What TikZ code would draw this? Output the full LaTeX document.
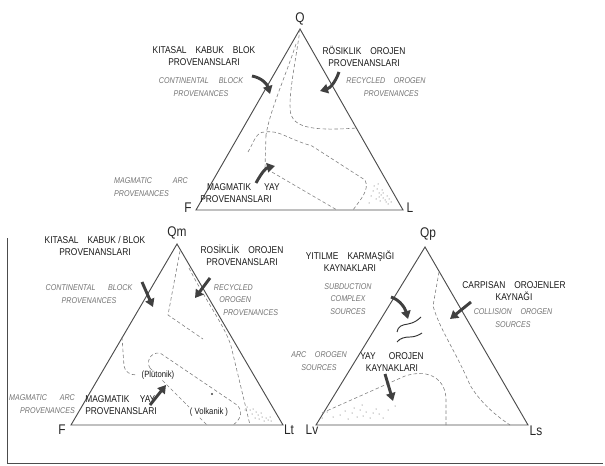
\documentclass[tikz,border=0pt]{standalone}
\usepackage{fontspec}
\newfontfamily\lab[FakeStretch=0.85]{Liberation Sans}
\usetikzlibrary{arrows.meta}
\begin{document}
\begin{tikzpicture}[x=0.75pt,y=-0.75pt,
  edge/.style={draw=black!70, line width=0.7pt, line join=miter},
  fieldline/.style={draw=black!50, dash pattern=on 2.6pt off 1.8pt, line width=0.45pt},
  bigarrow/.style={draw=black!75, line width=2.2pt, -{Triangle[length=6pt,width=7pt]}},
  trtext/.style={font=\lab\fontsize{7.4}{9}\selectfont, text=black!90, align=center, inner sep=0pt},
  entext/.style={font=\lab\itshape\fontsize{6.3}{9.5}\selectfont, text=black!55, align=center, inner sep=0pt},
  corner/.style={font=\lab\fontsize{10.5}{11}\selectfont, text=black!85, inner sep=0pt},
  dots/.style={fill=black!70}]
\useasboundingbox (0,0) rectangle (605,466);
% frame
\draw[edge, line width=0.6pt] (7,238) -- (7,463) -- (603,463);

% ---------------- top triangle QFL
\coordinate (F1) at (196,210); \coordinate (Q1) at (300,29); \coordinate (L1) at (403,210);
\draw[edge] (F1) -- (Q1) -- (L1) -- cycle;
\node[corner] (q1) at (300,19) {Q};
\node[corner] (f1) at (188,208) {F};
\node[corner] (l1) at (410,208) {L};

\draw[fieldline] (Q1) .. controls (296,60) and (287,100) .. (291,115) .. controls (296,128) and (315,131) .. (357,128);
\draw[fieldline] (296,44) .. controls (286,75) and (270,110) .. (266,135);
\draw[fieldline] (248,152) .. controls (255,140) and (256,132) .. (265,132) .. controls (280,130) and (285,138) .. (312,146) -- (365,180) .. controls (370,190) and (360,200) .. (353,210);
\draw[fieldline] (266,135) -- (265,168) -- (337,210);

\node[trtext] (t1a) at (204,56) {KITASAL\hspace{5pt} KABUK\hspace{5pt} BLOK\\PROVENANSLARI};
\node[entext] (t1b) at (201,87) {CONTINENTAL\hspace{6pt} BLOCK\\PROVENANCES};
\node[trtext] (t1c) at (364,56) {RÖSIKLIK\hspace{5pt} OROJEN\\PROVENANSLARI};
\node[entext] (t1d) at (386,87) {RECYCLED\hspace{5pt} OROGEN\\\hspace{8pt}PROVENANCES};
\node[entext, align=left] (t1e) at (151,187) {MAGMATIC\hspace{14pt} ARC\\PROVENANCES};
\node[trtext, align=left] (t1f) at (240,193) {\hspace{5pt}MAGMATIK\hspace{8pt} YAY\\PROVENANSLARI};

\coordinate (a1s) at (252,76); \coordinate (a1e) at (270,94);
\draw[bigarrow] (a1s) .. controls (262,78) and (267,84) .. (a1e);
\coordinate (a2s) at (339,72); \coordinate (a2e) at (320,91);
\draw[bigarrow] (a2s) .. controls (335,83) and (330,88) .. (a2e);
\coordinate (a3s) at (256,183); \coordinate (a3e) at (275,166);
\draw[bigarrow] (a3s) .. controls (262,172) and (266,168) .. (a3e);

% dotted cluster near L
\foreach \px/\py in {374/186,377/189,379/193,381/195,383/198,385/200,379/197,376/199,383/193,387/196,389/199,386/202,380/201,373/191,371/196,369/203,391/202,378/184,382/190,388/204}
  \fill[dots] (\px,\py) circle (0.5);

% ---------------- bottom-left triangle QmFLt
\coordinate (F2) at (71,425); \coordinate (Q2) at (177,244); \coordinate (L2) at (283,425);
\draw[edge] (F2) -- (Q2) -- (L2) -- cycle;
\node[corner] (q2) at (177,233) {Qm};
\node[corner] (f2) at (62,430) {F};
\node[corner] (l2) at (289,430) {Lt};

\draw[fieldline] (180,251) -- (168,315) -- (203,339);
\draw[fieldline] (189,268) .. controls (205,300) and (228,330) .. (232,350) -- (250,425);
\draw[fieldline] (122,337) -- (124,366) .. controls (125,372) and (130,375) .. (137,375);
\draw[fieldline] (150,368) .. controls (146,362) and (150,352) .. (160,353) -- (237,405) .. controls (244,412) and (240,420) .. (233,425);
\draw[fieldline] (150,368) -- (207,425);

\node[trtext] (t2a) at (95,246) {KITASAL\hspace{5pt} KABUK / BLOK\\PROVENANSLARI};
\node[entext] (t2b) at (89,294) {CONTINENTAL\hspace{8pt} BLOCK\\PROVENANCES};
\node[trtext] (t2c) at (242,255) {ROSİKLİK\hspace{5pt} OROJEN\\PROVENANSLARI};
\node[entext, align=left] (t2d) at (246,300) {RECYCLED\\\hspace{4pt}OROGEN\\\hspace{7pt}PROVENANCES};
\node[entext, align=right] (t2e) at (42,404) {MAGMATIC\hspace{8pt} ARC\\PROVENANCES};
\node[trtext, align=left] (t2f) at (121,405) {MAGMATIK\hspace{6pt} YAY\\PROVENANSLARI};
\node[trtext, font=\lab\fontsize{6.8}{8}\selectfont, fill=white, inner sep=0.5pt] (t2g) at (158,375) {(Plütonik)};
\node[trtext, font=\lab\fontsize{6.8}{8}\selectfont, fill=white, inner sep=0.5pt] (t2h) at (209,412) {( Volkanik )};

\coordinate (b1s) at (142,282); \coordinate (b1e) at (153,307);
\draw[bigarrow] (b1s) -- (b1e);
\coordinate (b2s) at (210,278); \coordinate (b2e) at (195,298);
\draw[bigarrow] (b2s) -- (b2e);
\coordinate (b3s) at (150,405); \coordinate (b3e) at (166,385);
\draw[bigarrow] (b3s) -- (b3e);
\fill[black!75] (212,394) circle (1.1);
\foreach \px/\py in {247/407,250/410,253/409,256/412,258/415,262/417,259/419,255/418,266/418,268/420,264/421,271/421,261/413,252/414,245/410,270/417}
  \fill[dots] (\px,\py) circle (0.5);

% ---------------- bottom-right triangle QpLvLs
\coordinate (L3) at (316,425); \coordinate (Q3) at (425,247); \coordinate (S3) at (528,425);
\draw[edge] (L3) -- (Q3) -- (S3) -- cycle;
\node[corner] (q3) at (428,234) {Qp};
\node[corner] (v3) at (312,430) {Lv};
\node[corner] (s3) at (536,431) {Ls};

\draw[fieldline] (322,413) -- (405,376) .. controls (430,368) and (446,380) .. (446,400) -- (446,425);
\draw[fieldline] (439,272) -- (433,306) .. controls (440,330) and (455,350) .. (470,385) .. controls (480,402) and (495,415) .. (510,425);

\node[trtext] (t3a) at (350,261) {YITILME\hspace{5pt} KARMAŞIĞI\\KAYNAKLARI};
\node[entext] (t3b) at (348,299) {SUBDUCTION\\COMPLEX\\SOURCES};
\node[trtext] (t3c) at (514,291) {CARPISAN\hspace{5pt} OROJENLER\\KAYNAĞI};
\node[entext] (t3d) at (513,318) {COLLISION\hspace{5pt} OROGEN\\SOURCES};
\node[entext] (t3e) at (319,361) {ARC\hspace{5pt} OROGEN\\SOURCES};
\node[trtext] (t3f) at (392,362) {YAY\hspace{8pt} OROJEN\\KAYNAKLARI};

\coordinate (c1s) at (391,297); \coordinate (c1e) at (408,319);
\draw[bigarrow] (c1s) .. controls (400,300) and (405,308) .. (c1e);
\coordinate (c2s) at (471,302); \coordinate (c2e) at (450,319);
\draw[bigarrow] (c2s) -- (c2e);
\coordinate (c3s) at (385,374); \coordinate (c3e) at (393,401);
\draw[bigarrow] (c3s) -- (c3e);

\draw[black!80, line width=0.7pt] (397,332) .. controls (398,326) and (402,325) .. (408,324) .. controls (414,323) and (418,320) .. (421,317);
\draw[black!80, line width=0.7pt] (397,342) .. controls (400,338) and (405,337) .. (410,337) .. controls (415,337) and (419,335) .. (422,333);

\foreach \px/\py in {322/418,327/412,333/417,340/415,348/419,352/413,357/417,360/410,363/416,366/412,370/418,373/413,376/409,379/414,383/418,388/410,395/406,362/405,354/408,345/411}
  \fill[dots] (\px,\py) circle (0.5);
\end{tikzpicture}
\end{document}
